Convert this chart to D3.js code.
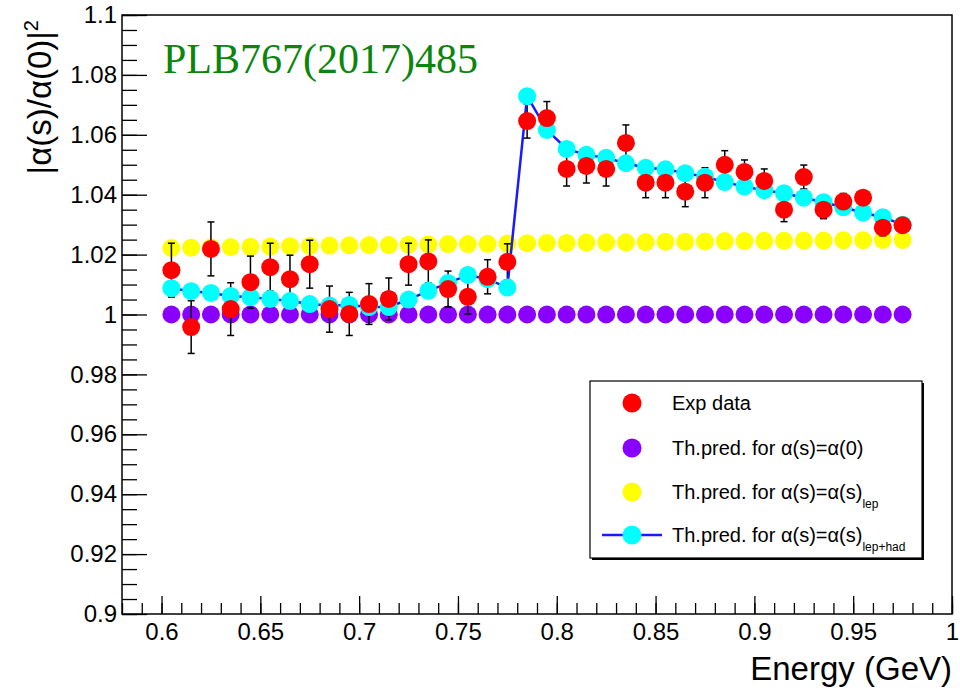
<!DOCTYPE html>
<html>
<head>
<meta charset="utf-8">
<script src="https://cdn.jsdelivr.net/npm/d3@7"></script>
<style>
  body { margin: 0; background: #fff; }
  text { font-family: "Liberation Sans", Arial, Helvetica, sans-serif; }
</style>
</head>
<body>
<div id="chart"></div>
<script>
// data
var energy = [0.605, 0.615, 0.625, 0.635, 0.645, 0.655, 0.665, 0.675, 0.685, 0.695,
  0.705, 0.715, 0.725, 0.735, 0.745, 0.755, 0.765, 0.775, 0.785, 0.795,
  0.805, 0.815, 0.825, 0.835, 0.845, 0.855, 0.865, 0.875, 0.885, 0.895,
  0.905, 0.915, 0.925, 0.935, 0.945, 0.955, 0.965, 0.975];

var expData = [1.0148, 0.9958, 1.0219, 1.0018, 1.0108, 1.0158, 1.0118, 1.0168, 1.0018, 1.0002,
  1.0035, 1.0052, 1.0168, 1.0177, 1.0085, 1.0059, 1.0126, 1.0176, 1.0646, 1.0656,
  1.0486, 1.0496, 1.0486, 1.0573, 1.0440, 1.0440, 1.0410, 1.0440, 1.0500, 1.0476,
  1.0446, 1.0350, 1.0459, 1.0350, 1.0377, 1.0390, 1.0290, 1.0298];

var expErr = [0.0090, 0.0088, 0.0090, 0.0088, 0.0087, 0.0080, 0.0080, 0.0080, 0.0077, 0.0072,
  0.0068, 0.0070, 0.0070, 0.0072, 0.0060, 0.0057, 0.0057, 0.0060, 0.0057, 0.0055,
  0.0057, 0.0057, 0.0057, 0.0060, 0.0050, 0.0050, 0.0050, 0.0050, 0.0047, 0.0040,
  0.0040, 0.0040, 0.0040, 0.0030, 0.0027, 0.0023, 0.0027, 0.0020];

var thZero = [1, 1, 1, 1, 1, 1, 1, 1, 1, 1,
  1, 1, 1, 1, 1, 1, 1, 1, 1, 1,
  1, 1, 1, 1, 1, 1, 1, 1, 1, 1,
  1, 1, 1, 1, 1, 1, 1, 1];

var thLep = [1.0222, 1.0223, 1.0224, 1.0225, 1.0226, 1.0227, 1.0228, 1.0229, 1.0230, 1.0231,
  1.0232, 1.0232, 1.0233, 1.0234, 1.0235, 1.0235, 1.0236, 1.0237, 1.0238, 1.0239,
  1.0239, 1.0240, 1.0241, 1.0241, 1.0242, 1.0243, 1.0243, 1.0244, 1.0245, 1.0245,
  1.0246, 1.0246, 1.0247, 1.0247, 1.0248, 1.0248, 1.0249, 1.0249];

var thLepHad = [1.0088, 1.0078, 1.0072, 1.0062, 1.0058, 1.0052, 1.0045, 1.0035, 1.0030, 1.0032,
  1.0025, 1.0025, 1.0050, 1.0079, 1.0105, 1.0132, 1.0118, 1.0090, 1.0729, 1.0616,
  1.0553, 1.0533, 1.0523, 1.0505, 1.0490, 1.0485, 1.0472, 1.0460, 1.0442, 1.0427,
  1.0415, 1.0405, 1.0390, 1.0375, 1.0358, 1.0340, 1.0325, 1.0300];

var xTicks = [0.6, 0.65, 0.7, 0.75, 0.8, 0.85, 0.9, 0.95, 1];
var yTicks = [0.9, 0.92, 0.94, 0.96, 0.98, 1, 1.02, 1.04, 1.06, 1.08, 1.1];

var svgWidth = 960;
var svgHeight = 691;

var margin = {
  top: 15,
  right: 8,
  bottom: 77,
  left: 122
};

var width = svgWidth - margin.left - margin.right;
var height = svgHeight - margin.top - margin.bottom;

var svg = d3.select("#chart")
  .append("svg")
  .attr("width", svgWidth)
  .attr("height", svgHeight)
  .style("display", "block");

var chartGroup = svg.append("g")
  .attr("transform", `translate(${margin.left}, ${margin.top})`);

var xScale = d3.scaleLinear()
  .domain([0.58, 1.0])
  .range([0, width]);

var yScale = d3.scaleLinear()
  .domain([0.9, 1.1])
  .range([height, 0]);

var fmt = d => String(+d.toFixed(3));

// minor ticks (no labels)
var xMinor = d3.range(58, 101).map(d => d / 100);
var yMinor = d3.range(180, 221).map(d => d / 200);

chartGroup.append("g")
  .attr("transform", `translate(0, ${height})`)
  .call(d3.axisBottom(xScale).tickValues(xMinor).tickSizeInner(-11).tickSizeOuter(0).tickFormat(""))
  .call(g => g.select(".domain").remove());

chartGroup.append("g")
  .call(d3.axisLeft(yScale).tickValues(yMinor).tickSizeInner(-15).tickSizeOuter(0).tickFormat(""))
  .call(g => g.select(".domain").remove());

// major ticks with labels
chartGroup.append("g")
  .attr("transform", `translate(0, ${height})`)
  .call(d3.axisBottom(xScale).tickValues(xTicks).tickSizeInner(-18).tickSizeOuter(0).tickPadding(9).tickFormat(fmt))
  .call(g => g.select(".domain").remove())
  .call(g => g.selectAll("text").style("font-size", "24px").attr("fill", "#000"));

chartGroup.append("g")
  .call(d3.axisLeft(yScale).tickValues(yTicks).tickSizeInner(-25).tickSizeOuter(0).tickPadding(5).tickFormat(fmt))
  .call(g => g.select(".domain").remove())
  .call(g => g.selectAll("text").style("font-size", "24px").attr("fill", "#000"));

chartGroup.selectAll(".tick line")
  .attr("stroke", "#000")
  .attr("stroke-width", 1.3);

// frame
chartGroup.append("rect")
  .attr("x", 0)
  .attr("y", 0)
  .attr("width", width)
  .attr("height", height)
  .attr("fill", "none")
  .attr("stroke", "#000")
  .attr("stroke-width", 1.5);

var idx = d3.range(energy.length);
var r = 9;

// alpha(0) prediction
chartGroup.append("g").selectAll("circle")
  .data(idx)
  .enter()
  .append("circle")
  .attr("cx", i => xScale(energy[i]))
  .attr("cy", i => yScale(thZero[i]))
  .attr("r", r)
  .attr("fill", "#8a00ff");

// leptonic prediction
chartGroup.append("g").selectAll("circle")
  .data(idx)
  .enter()
  .append("circle")
  .attr("cx", i => xScale(energy[i]))
  .attr("cy", i => yScale(thLep[i]))
  .attr("r", r)
  .attr("fill", "#ffff00");

// error bars of exp data
var errGroup = chartGroup.append("g")
  .attr("stroke", "#000")
  .attr("stroke-width", 1.5);

errGroup.selectAll("line.bar")
  .data(idx)
  .enter()
  .append("line")
  .attr("class", "bar")
  .attr("x1", i => xScale(energy[i]))
  .attr("x2", i => xScale(energy[i]))
  .attr("y1", i => yScale(expData[i] + expErr[i]))
  .attr("y2", i => yScale(expData[i] - expErr[i]));

errGroup.selectAll("line.capTop")
  .data(idx)
  .enter()
  .append("line")
  .attr("class", "capTop")
  .attr("x1", i => xScale(energy[i]) - 3.5)
  .attr("x2", i => xScale(energy[i]) + 3.5)
  .attr("y1", i => yScale(expData[i] + expErr[i]))
  .attr("y2", i => yScale(expData[i] + expErr[i]));

errGroup.selectAll("line.capBot")
  .data(idx)
  .enter()
  .append("line")
  .attr("class", "capBot")
  .attr("x1", i => xScale(energy[i]) - 3.5)
  .attr("x2", i => xScale(energy[i]) + 3.5)
  .attr("y1", i => yScale(expData[i] - expErr[i]))
  .attr("y2", i => yScale(expData[i] - expErr[i]));

// lep+had prediction: line + points
var line = d3.line()
  .x(i => xScale(energy[i]))
  .y(i => yScale(thLepHad[i]));

chartGroup.append("path")
  .datum(idx)
  .attr("d", line)
  .attr("fill", "none")
  .attr("stroke", "#1a1aff")
  .attr("stroke-width", 2.5);

chartGroup.append("g").selectAll("circle")
  .data(idx)
  .enter()
  .append("circle")
  .attr("cx", i => xScale(energy[i]))
  .attr("cy", i => yScale(thLepHad[i]))
  .attr("r", r)
  .attr("fill", "#00ffff");

// exp data points
chartGroup.append("g").selectAll("circle")
  .data(idx)
  .enter()
  .append("circle")
  .attr("cx", i => xScale(energy[i]))
  .attr("cy", i => yScale(expData[i]))
  .attr("r", r)
  .attr("fill", "#ff0000");

// reference tag
svg.append("text")
  .attr("x", 163)
  .attr("y", 73)
  .style("font-family", "'Liberation Serif', 'Times New Roman', serif")
  .style("font-size", "42px")
  .attr("fill", "#0b850b")
  .text("PLB767(2017)485");

// axis titles
svg.append("text")
  .attr("x", 952)
  .attr("y", 680)
  .attr("text-anchor", "end")
  .style("font-size", "33px")
  .attr("fill", "#000")
  .text("Energy (GeV)");

var yTitle = svg.append("text")
  .attr("transform", "translate(51, 20) rotate(-90)")
  .attr("text-anchor", "end")
  .style("font-size", "33px")
  .attr("fill", "#000");
yTitle.append("tspan").text("|\u03b1(s)/\u03b1(0)|");
yTitle.append("tspan").attr("dy", -13).style("font-size", "20px").text("2");

// legend
var legend = svg.append("g");

legend.append("rect")
  .attr("x", 592)
  .attr("y", 383)
  .attr("width", 332)
  .attr("height", 177)
  .attr("fill", "#000");

legend.append("rect")
  .attr("x", 590)
  .attr("y", 381)
  .attr("width", 332)
  .attr("height", 177)
  .attr("fill", "#fff")
  .attr("stroke", "#000")
  .attr("stroke-width", 1.2);

var legendRows = [
  { color: "#ff0000", text: "Exp data", sub: "", y: 403 },
  { color: "#8a00ff", text: "Th.pred. for \u03b1(s)=\u03b1(0)", sub: "", y: 448 },
  { color: "#ffff00", text: "Th.pred. for \u03b1(s)=\u03b1(s)", sub: "lep", y: 492 },
  { color: "#00ffff", text: "Th.pred. for \u03b1(s)=\u03b1(s)", sub: "lep+had", y: 535 }
];

legend.append("line")
  .attr("x1", 602)
  .attr("x2", 662)
  .attr("y1", 535)
  .attr("y2", 535)
  .attr("stroke", "#1a1aff")
  .attr("stroke-width", 2.5);

legend.selectAll("circle.mark")
  .data(legendRows)
  .enter()
  .append("circle")
  .attr("class", "mark")
  .attr("cx", 632)
  .attr("cy", d => d.y)
  .attr("r", 9.5)
  .attr("fill", d => d.color);

var legendText = legend.selectAll("text.lab")
  .data(legendRows)
  .enter()
  .append("text")
  .attr("class", "lab")
  .attr("x", 672)
  .attr("y", d => d.y + 7)
  .style("font-size", "20px")
  .attr("fill", "#000");

legendText.append("tspan").text(d => d.text);
legendText.append("tspan")
  .attr("dy", 9)
  .style("font-size", "12px")
  .text(d => d.sub);
</script>
</body>
</html>
